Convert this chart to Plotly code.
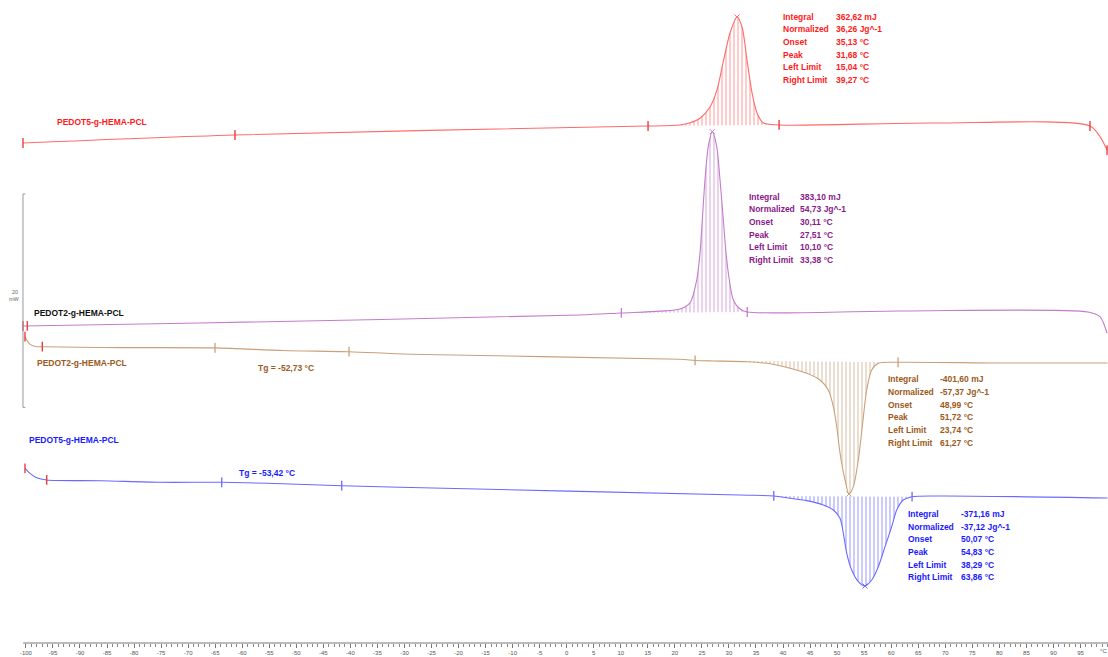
import numpy as np
import plotly.graph_objects as go

# ---------------- data ----------------
# temperature in °C, heat flow in mW (curves shown with their display offsets)
red_T = [-100.54, -61.34, 15.04, 16.33, 20.95, 22.80, 24.65, 26.50, 27.79, 28.90, 30.20, 31.50,
         32.42, 33.34, 34.27, 35.19, 36.30, 39.27, 67.73, 96.76, 98.61, 99.91]
red_Q = [46.86, 47.61, 48.45, 48.45, 48.55, 48.76, 49.18, 50.23, 51.83, 54.36, 57.17, 58.67,
         57.73, 54.64, 51.55, 49.67, 48.76, 48.55, 48.73, 48.45, 47.45, 46.20]

purple_T = [-100.54, -67.81, 2.46, 10.10, 17.25, 20.95, 22.80, 24.04, 24.65, 25.07, 25.57, 26.18,
            26.92, 27.74, 28.35, 28.96, 29.46, 30.07, 30.81, 32.05, 33.38, 61.63, 96.39, 98.61, 99.91]
purple_Q = [29.71, 29.99, 30.74, 30.93, 31.10, 31.30, 31.87, 34.02, 36.55, 39.64, 43.39, 46.51,
            47.92, 46.51, 43.39, 39.64, 36.55, 34.02, 32.15, 31.30, 31.02, 31.12, 31.02, 30.58, 29.03]

brown_T = [-100.17, -99.85, -99.24, -98.00, -96.97, -86.30, -65.03, -52.46, -40.25, -28.98,
           20.95, 23.74, 27.11, 33.28, 36.98, 41.29, 44.38, 46.84, 48.37, 49.30,
           49.93, 50.54, 51.46, 52.20, 53.00, 53.92, 54.73, 55.47, 56.40, 57.62,
           61.27, 80.12, 100.0]
brown_Q = [28.71, 28.40, 27.99, 27.77, 27.77, 27.69, 27.66, 27.41, 27.30, 27.06,
           26.59, 26.48, 26.43, 26.36, 26.21, 25.75, 25.28, 24.65, 23.71, 22.15,
           20.27, 17.81, 15.28, 13.96, 14.65, 17.15, 20.62, 23.71, 25.59, 26.21,
           26.31, 26.24, 26.24]

blue_T = [-100.17, -99.24, -98.00, -96.15, -86.30, -75.20, -63.79, -55.47, -41.60, -30.82,
          32.05, 38.29, 41.29, 44.38, 47.45, 49.30, 50.54, 51.15, 51.78, 52.70,
          53.92, 55.16, 56.40, 57.62, 58.86, 60.10, 61.02, 62.24, 63.86, 69.03, 100.0]
blue_Q = [16.37, 15.90, 15.49, 15.28, 15.21, 15.06, 15.06, 14.97, 14.74, 14.59,
          13.87, 13.78, 13.56, 13.34, 12.93, 12.46, 11.69, 10.28, 8.41, 6.84,
          5.75, 5.34, 5.90, 7.15, 9.03, 10.90, 12.46, 13.40, 13.71, 13.78, 13.59]

# integration limits (°C)
red_limits = (15.04, 39.27)
purple_limits = (10.10, 33.38)
brown_limits = (23.74, 61.27)
blue_limits = (38.29, 63.86)

# marker positions on curves (°C); the first n are red "start" marks
red_marks = [-100.54, -61.34, 15.04, 39.27, 96.76, 99.91]
purple_marks = [-100.54, -99.75, 10.10, 33.38]
brown_marks = [-100.17, -96.97, -65.03, -40.25, 23.74, 61.27]
blue_marks = [-100.17, -96.15, -63.79, -41.60, 38.29, 63.86]
purple_red_marks = 2
brown_red_marks = 2
blue_red_marks = 2

sample_names = ["PEDOT5-g-HEMA-PCL", "PEDOT2-g-HEMA-PCL", "PEDOT2-g-HEMA-PCL", "PEDOT5-g-HEMA-PCL"]
tg_texts = ["Tg = -52,73 °C", "Tg = -53,42 °C"]

row_labels = ["Integral", "Normalized", "Onset", "Peak", "Left Limit", "Right Limit"]
red_vals = ["362,62 mJ", "36,26 Jg^-1", "35,13 °C", "31,68 °C", "15,04 °C", "39,27 °C"]
purple_vals = ["383,10 mJ", "54,73 Jg^-1", "30,11 °C", "27,51 °C", "10,10 °C", "33,38 °C"]
brown_vals = ["-401,60 mJ", "-57,37 Jg^-1", "48,99 °C", "51,72 °C", "23,74 °C", "61,27 °C"]
blue_vals = ["-371,16 mJ", "-37,12 Jg^-1", "50,07 °C", "54,83 °C", "38,29 °C", "63,86 °C"]

x_major = list(range(-100, 100, 5))
x_minor = list(range(-100, 101, 1))

# ---------------- styling ----------------
FONT = "Liberation Sans, Arial, sans-serif"
RED_L, RED_T = "#ff6a6a", "#ff1a1a"
PUR_L, PUR_T = "#c47ccc", "#8a1a8a"
BRN_L, BRN_T = "#c9a07a", "#9a5a20"
BLU_L, BLU_T = "#6a6aff", "#1a1aff"
MARK_RED = "#e83030"

fig = go.Figure()


def add_curve(T, Q, limits, line_col, marks, n_red, exo_up):
    T = np.asarray(T)
    Q = np.asarray(Q)
    m = (T >= limits[0] - 1e-9) & (T <= limits[1] + 1e-9)
    fig.add_trace(go.Scatter(
        x=T[m], y=Q[m], mode="lines",
        line=dict(width=0, shape="spline", smoothing=0.8, color=line_col),
        fill="toself", fillcolor="rgba(0,0,0,0)",
        fillpattern=dict(shape="|", fgcolor=line_col, size=4, solidity=0.35),
        hoverinfo="skip", showlegend=False))
    fig.add_trace(go.Scatter(
        x=T, y=Q, mode="lines",
        line=dict(width=1.1, shape="spline", smoothing=0.8, color=line_col),
        hoverinfo="skip", showlegend=False))
    mk = np.asarray(marks)
    cols = [MARK_RED if i < n_red else line_col for i in range(len(mk))]
    fig.add_trace(go.Scatter(
        x=mk, y=np.interp(mk, T, Q), mode="markers",
        marker=dict(symbol="line-ns", size=7, line=dict(width=1.3, color=cols)),
        hoverinfo="skip", showlegend=False, cliponaxis=False))
    # small cross at the peak extreme
    Tp, Qp = T[m], Q[m]
    k = int(np.argmax(Qp)) if exo_up else int(np.argmin(Qp))
    fig.add_trace(go.Scatter(
        x=[Tp[k]], y=[Qp[k]], mode="markers",
        marker=dict(symbol="x-thin", size=5, line=dict(width=1, color=line_col)),
        hoverinfo="skip", showlegend=False, cliponaxis=False))


add_curve(red_T, red_Q, red_limits, RED_L, red_marks, len(red_marks), True)
add_curve(purple_T, purple_Q, purple_limits, PUR_L, purple_marks, purple_red_marks, True)
add_curve(brown_T, brown_Q, brown_limits, BRN_L, brown_marks, brown_red_marks, False)
add_curve(blue_T, blue_Q, blue_limits, BLU_L, blue_marks, blue_red_marks, False)

# axis line and scale bar
shapes = [
    dict(type="line", xref="x", yref="paper", x0=-100.5, x1=100.1, y0=0, y1=0,
         line=dict(color="#777", width=1)),
    dict(type="line", xref="x", yref="y", x0=-100.54, x1=-100.54, y0=22.08, y1=42.08,
         line=dict(color="#999", width=1)),
    dict(type="line", xref="x", yref="y", x0=-100.54, x1=-100.1, y0=42.08, y1=42.08,
         line=dict(color="#999", width=1)),
    dict(type="line", xref="x", yref="y", x0=-100.54, x1=-100.1, y0=22.08, y1=22.08,
         line=dict(color="#999", width=1)),
]

ann = []


def txt(x, y, s, color, size=8.5, anchor="left"):
    ann.append(dict(x=x, y=y, xref="x", yref="y", text=s, showarrow=False,
                    xanchor=anchor, yanchor="middle",
                    font=dict(family=FONT, size=size, color=color, weight="bold")))


# sample labels
txt(-94.62, 48.83, sample_names[0], RED_T)
txt(-98.87, 30.90, sample_names[1], "#111111")
txt(-98.32, 26.27, sample_names[2], BRN_T)
txt(-99.80, 19.03, sample_names[3], BLU_T)
# Tg labels
txt(-57.45, 25.75, tg_texts[0], BRN_T)
txt(-61.02, 15.90, tg_texts[1], BLU_T)

# result tables
STEP = 1.185
for (x0, x1, ytop, vals, col) in [
        (39.70, 49.50, 58.70, red_vals, RED_T),
        (33.28, 42.77, 41.83, purple_vals, PUR_T),
        (59.04, 68.71, 24.71, brown_vals, BRN_T),
        (62.74, 72.49, 12.09, blue_vals, BLU_T)]:
    for i, (lab, v) in enumerate(zip(row_labels, vals)):
        txt(x0, ytop - i * STEP, lab, col)
        txt(x1, ytop - i * STEP, v, col)

# scale bar label
ann.append(dict(x=-102.0, y=32.9, xref="x", yref="y", text="20", showarrow=False,
                font=dict(family=FONT, size=5.5, color="#666")))
ann.append(dict(x=-102.1, y=32.2, xref="x", yref="y", text="mW", showarrow=False,
                font=dict(family=FONT, size=5.5, color="#666")))
# axis unit
ann.append(dict(x=99.2, y=0, xref="x", yref="paper", yshift=-8, text="°C", showarrow=False,
                yanchor="middle", font=dict(family=FONT, size=6, color="#555")))

fig.update_layout(
    width=1108, height=657,
    margin=dict(l=0, r=0, t=0, b=14),
    paper_bgcolor="white", plot_bgcolor="white",
    shapes=shapes, annotations=ann, showlegend=False,
    xaxis=dict(range=[-104.79, 100.09], showgrid=False, zeroline=False, showline=False,
               tickmode="array", tickvals=x_major, ticktext=[str(v) for v in x_major],
               ticks="outside", ticklen=4, tickwidth=1, tickcolor="#777",
               tickfont=dict(family=FONT, size=6, color="#555"),
               minor=dict(tickmode="array", tickvals=x_minor, ticks="outside",
                          ticklen=2.5, tickcolor="#888", showgrid=False)),
    yaxis=dict(range=[0, 60.26], visible=False, showgrid=False, zeroline=False),
)

# remove the default page margin so the figure fills the window exactly
fig.write_html("out.html", config={"displayModeBar": False},
               post_script="document.body.style.margin='0';document.body.style.overflow='hidden';")
